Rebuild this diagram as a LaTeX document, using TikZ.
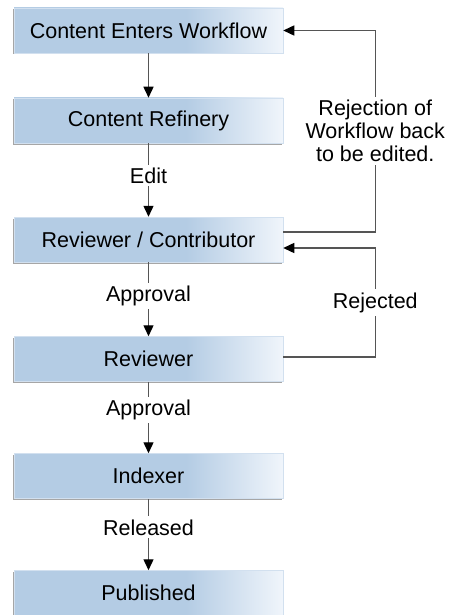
\documentclass[tikz,border=0pt]{standalone}
\usepackage{fontspec}
\setmainfont{Liberation Sans}
\usetikzlibrary{arrows.meta, positioning, shadows}

\definecolor{boxblue}{RGB}{180,204,228}
\definecolor{boxpale}{RGB}{240,245,251}
\definecolor{linegray}{RGB}{85,85,85}
\pgfdeclarehorizontalshading{boxfade}{100bp}{color(0bp)=(boxblue); color(25bp)=(boxblue); color(57bp)=(boxblue); color(75bp)=(boxpale); color(100bp)=(boxpale)}

\begin{document}
\begin{tikzpicture}[
    x=1pt, y=1pt,
    flowbox/.style={rectangle, shading=boxfade, draw=boxblue!60!white, line width=0.5pt, minimum width=269pt, minimum height=45pt, inner sep=0pt, font=\fontsize{21.5}{23}\selectfont, drop shadow={shadow xshift=-1.5pt, shadow yshift=-1.5pt, fill=gray, opacity=0.7}},
    arrow/.style={draw=linegray, line width=1.4pt, -{Triangle[length=11pt, width=10pt, black]}},
    flowlabel/.style={fill=white, inner sep=3pt, align=center, font=\fontsize{21.5}{23}\selectfont}
  ]
    \useasboundingbox (0,0) rectangle (450,-615);

    % Workflow steps
    \node[flowbox] (enter) at (148.5,-30.5) {Content Enters Workflow};
    \node[flowbox] (refinery) at (148.5,-120.5) {Content Refinery};
    \node[flowbox] (contrib) at (148.5,-239.5) {Reviewer / Contributor};
    \node[flowbox] (reviewer) at (148.5,-359) {Reviewer};
    \node[flowbox] (indexer) at (148.5,-476) {Indexer};
    \node[flowbox] (published) at (148.5,-593) {Published};

    % Forward flow
    \draw[arrow] (enter) -- (refinery);
    \draw[arrow] (refinery) -- node[flowlabel, pos=0.44] {Edit} (contrib);
    \draw[arrow] (contrib) -- node[flowlabel, pos=0.45] {Approval} (reviewer);
    \draw[arrow] (reviewer) -- node[flowlabel, pos=0.40] {Approval} (indexer);
    \draw[arrow] (indexer) -- node[flowlabel, pos=0.40] {Released} (published);

    % Rejection loops
    \draw[arrow] ([yshift=7.5pt]contrib.east) -- ++(92,0) |- node[flowlabel, pos=0.25] {Rejection of\\Workflow back\\to be edited.} (enter.east);
    \draw[arrow] ([yshift=2pt]reviewer.east) -- ++(92,0) |- node[flowlabel, pos=0.25] {Rejected} ([yshift=-8.5pt]contrib.east);

  \end{tikzpicture}
\end{document}
